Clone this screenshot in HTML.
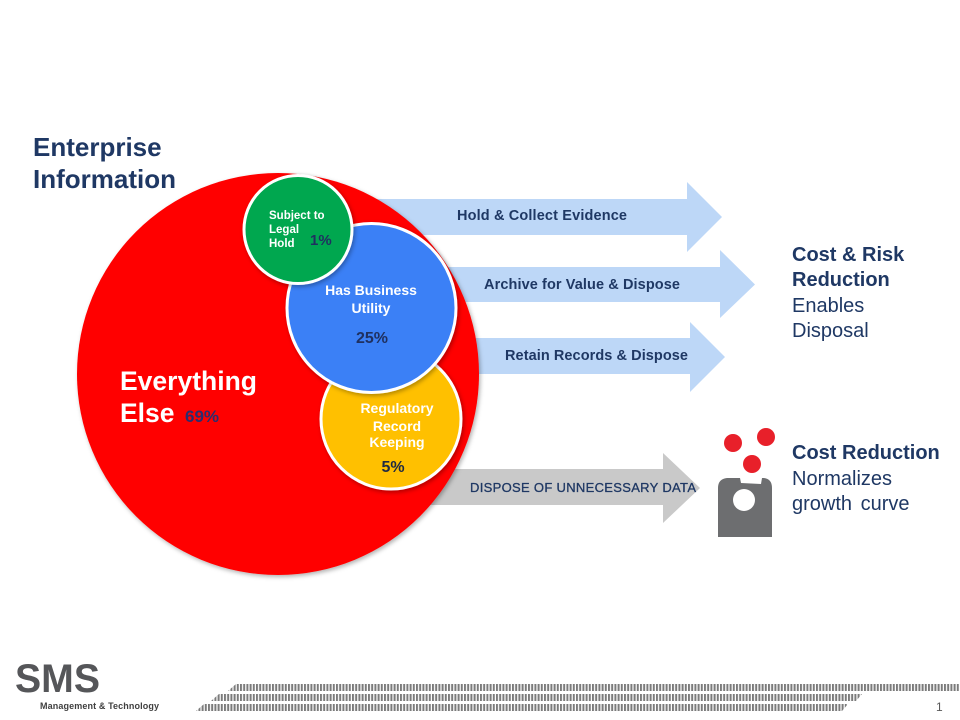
<!DOCTYPE html>
<html>
<head>
<meta charset="utf-8">
<style>
  html,body{margin:0;padding:0;background:#fff;}
  svg{display:block;}
  text{font-family:"Liberation Sans", Arial, sans-serif;}
</style>
</head>
<body>
<svg width="960" height="720" viewBox="0 0 960 720" xmlns="http://www.w3.org/2000/svg">
  <defs>
    <filter id="sh" x="-20%" y="-20%" width="140%" height="140%">
      <feDropShadow dx="1.5" dy="2" stdDeviation="2" flood-color="#000" flood-opacity="0.3"/>
    </filter>
    <pattern id="bars" x="0" y="0" width="3.2" height="20" patternUnits="userSpaceOnUse">
      <rect x="0" y="0" width="2" height="20" fill="#7b7b7b"/>
    </pattern>
  </defs>

  <!-- Title -->
  <text x="33" y="156" font-size="26" font-weight="bold" fill="#1f3864">Enterprise</text>
  <text x="33" y="188" font-size="26" font-weight="bold" fill="#1f3864">Information</text>

  <!-- Arrows (behind circles) -->
  <polygon points="300,199 687,199 687,182 722,217 687,252 687,235 300,235" fill="#bdd7f7"/>
  <polygon points="300,267 720,267 720,250 755,284.5 720,318 720,302 300,302" fill="#bdd7f7"/>
  <polygon points="300,338 690,338 690,322 725,357 690,392 690,374 300,374" fill="#bdd7f7"/>
  <polygon points="300,469 663,469 663,453 700,488 663,523 663,505 300,505" fill="#c9c9c9"/>

  <text x="457" y="220" font-size="14.5" font-weight="bold" fill="#1f3864" textLength="170">Hold &amp; Collect Evidence</text>
  <text x="484" y="289" font-size="14.5" font-weight="bold" fill="#1f3864" textLength="196">Archive for Value &amp; Dispose</text>
  <text x="505" y="360" font-size="14.5" font-weight="bold" fill="#1f3864" textLength="183">Retain Records &amp; Dispose</text>
  <text x="470" y="492" font-size="13" fill="#1f3864" textLength="226" stroke="#1f3864" stroke-width="0.3">DISPOSE OF UNNECESSARY  DATA</text>

  <!-- Big red circle -->
  <circle cx="278" cy="374" r="201" fill="#ff0000" filter="url(#sh)"/>

  <!-- Yellow circle -->
  <circle cx="391" cy="419" r="70" fill="#ffc000" stroke="#fff" stroke-width="3" filter="url(#sh)"/>
  <!-- Blue circle -->
  <circle cx="371.5" cy="308" r="84.5" fill="#3a80f6" stroke="#fff" stroke-width="3" filter="url(#sh)"/>
  <!-- Green circle -->
  <circle cx="298" cy="229.5" r="54" fill="#00a74f" stroke="#fff" stroke-width="3" filter="url(#sh)"/>

  <!-- Circle texts -->
  <text x="120" y="390" font-size="26.5" font-weight="bold" fill="#fff">Everything</text>
  <text x="120" y="422" font-size="26.5" font-weight="bold" fill="#fff">Else</text>
  <text x="185" y="422" font-size="17" font-weight="bold" fill="#2b2d6e">69%</text>

  <text x="269" y="219" font-size="11.5" font-weight="bold" fill="#fff">Subject to</text>
  <text x="269" y="233" font-size="11.5" font-weight="bold" fill="#fff">Legal</text>
  <text x="269" y="247" font-size="11.5" font-weight="bold" fill="#fff">Hold</text>
  <text x="310" y="245" font-size="15" font-weight="bold" fill="#1f3060">1%</text>

  <text x="371" y="295" font-size="14" font-weight="bold" fill="#fff" text-anchor="middle">Has Business</text>
  <text x="371" y="313" font-size="14" font-weight="bold" fill="#fff" text-anchor="middle">Utility</text>
  <text x="372" y="343" font-size="16" font-weight="bold" fill="#1f3060" text-anchor="middle">25%</text>

  <text x="397" y="413" font-size="14" font-weight="bold" fill="#fff" text-anchor="middle">Regulatory</text>
  <text x="397" y="431" font-size="14" font-weight="bold" fill="#fff" text-anchor="middle">Record</text>
  <text x="397" y="447" font-size="14" font-weight="bold" fill="#fff" text-anchor="middle">Keeping</text>
  <text x="393" y="472" font-size="16" font-weight="bold" fill="#1f2a44" text-anchor="middle">5%</text>

  <!-- Right texts -->
  <text x="792" y="261" font-size="20" font-weight="bold" fill="#1f3864">Cost &amp; Risk</text>
  <text x="792" y="286" font-size="20" font-weight="bold" fill="#1f3864">Reduction</text>
  <text x="792" y="312" font-size="20" fill="#1f3864">Enables</text>
  <text x="792" y="337" font-size="20" fill="#1f3864">Disposal</text>

  <text x="792" y="459" font-size="20" font-weight="bold" fill="#1f3864">Cost Reduction</text>
  <text x="792" y="485" font-size="20" fill="#1f3864">Normalizes</text>
  <text x="792" y="510" font-size="20" fill="#1f3864" word-spacing="3">growth curve</text>

  <!-- Icon -->
  <path d="M718,488 Q718,479 727,478 L740,478 L741,483 L761,484 L762,478 L764,478 Q772,479 772,488 L772,537 L718,537 Z" fill="#6d6e70"/>
  <circle cx="744" cy="500" r="11" fill="#fff"/>
  <circle cx="733" cy="443" r="9" fill="#e8202a"/>
  <circle cx="766" cy="437" r="9" fill="#e8202a"/>
  <circle cx="752" cy="464" r="9" fill="#e8202a"/>

  <!-- Footer logo -->
  <text x="15" y="692" font-size="40" font-weight="bold" fill="#555659" textLength="85" lengthAdjust="spacingAndGlyphs">SMS</text>
  <text x="40" y="709" font-size="9" font-weight="bold" fill="#404040" textLength="119">Management &amp; Technology</text>

  <!-- Footer stripes -->
  <polygon points="228,691 236,684 960,684 960,691" fill="url(#bars)"/>
  <polygon points="211,701 219,694 862,694 856,701" fill="url(#bars)"/>
  <polygon points="196,711 204,704 848,704 842,711" fill="url(#bars)"/>

  <text x="936" y="711" font-size="12" fill="#595959">1</text>
</svg>
</body>
</html>
